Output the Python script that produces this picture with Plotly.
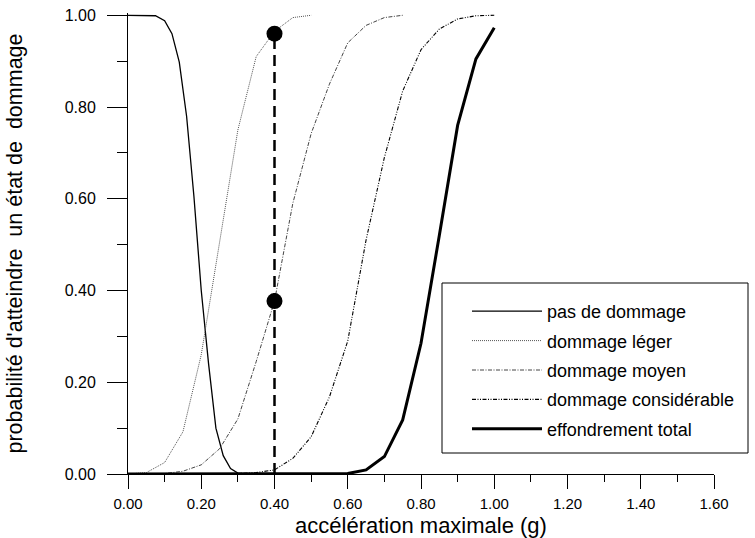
import plotly.graph_objects as go

# ---------------- data ----------------
x_pas = [0.0, 0.05, 0.075, 0.10, 0.12, 0.14, 0.16, 0.18, 0.20, 0.22, 0.24, 0.26, 0.28, 0.30, 0.32, 0.35]
p_pas = [1.0, 1.0, 0.999, 0.988, 0.96, 0.898, 0.78, 0.605, 0.40, 0.24, 0.10, 0.04, 0.012, 0.002, 0.0, 0.0]

x_leger = [0.0, 0.05, 0.10, 0.15, 0.20, 0.25, 0.30, 0.35, 0.40, 0.45, 0.50]
p_leger = [0.0, 0.003, 0.025, 0.092, 0.26, 0.50, 0.75, 0.91, 0.965, 0.995, 1.0]

x_moyen = [0.0, 0.05, 0.10, 0.15, 0.20, 0.25, 0.30, 0.35, 0.40, 0.45, 0.50, 0.55, 0.60, 0.65, 0.70, 0.75]
p_moyen = [0.0, 0.0, 0.001, 0.006, 0.02, 0.055, 0.12, 0.245, 0.377, 0.59, 0.742, 0.85, 0.94, 0.978, 0.995, 1.0]

x_consid = [0.0, 0.25, 0.30, 0.35, 0.40, 0.45, 0.50, 0.55, 0.60, 0.65, 0.70, 0.75, 0.80, 0.85, 0.90, 0.95, 1.00]
p_consid = [0.0, 0.0, 0.001, 0.003, 0.009, 0.034, 0.081, 0.168, 0.29, 0.51, 0.69, 0.835, 0.925, 0.97, 0.992, 0.999, 1.0]

x_effond = [0.0, 0.55, 0.60, 0.65, 0.70, 0.75, 0.80, 0.85, 0.90, 0.95, 1.00]
p_effond = [0.0, 0.0, 0.001, 0.009, 0.038, 0.118, 0.285, 0.52, 0.76, 0.905, 0.973]

# highlighted reading at a = 0.40 g
x_mark = [0.40, 0.40]
p_mark = [0.377, 0.96]

names = ["pas de dommage", "dommage léger", "dommage moyen",
         "dommage considérable", "effondrement total"]

x_ticks = [0.0, 0.2, 0.4, 0.6, 0.8, 1.0, 1.2, 1.4, 1.6]
y_ticks = [0.0, 0.2, 0.4, 0.6, 0.8, 1.0]

FONT = "Arial, 'Liberation Sans', Helvetica, sans-serif"

# ---------------- figure ----------------
fig = go.Figure()

styles = [
    dict(color="black", width=1.3, dash="solid"),
    dict(color="#555555", width=1.0, dash="1px,1px"),
    dict(color="#444444", width=1.0, dash="4px,1.5px,1px,1.5px"),
    dict(color="black", width=1.1, dash="4px,1.5px,1px,1.5px,1px,1.5px"),
    dict(color="black", width=3.0, dash="solid"),
]
series = [(x_pas, p_pas), (x_leger, p_leger), (x_moyen, p_moyen),
          (x_consid, p_consid), (x_effond, p_effond)]

for i, ((xs, ps), nm, st) in enumerate(zip(series, names, styles)):
    fig.add_trace(go.Scatter(
        x=xs, y=ps, mode="lines", name=nm, legendgroup=f"g{i}",
        line=st, hoverinfo="skip",
    ))

# dashed vertical reading line + markers
fig.add_trace(go.Scatter(
    x=[x_mark[0], x_mark[1]], y=[0.0, p_mark[1]], mode="lines",
    line=dict(color="black", width=2.5, dash="11px,6px"),
    showlegend=False, hoverinfo="skip",
))
fig.add_trace(go.Scatter(
    x=x_mark, y=p_mark, mode="markers",
    marker=dict(color="black", size=16, line=dict(width=0)),
    showlegend=False, hoverinfo="skip", cliponaxis=False,
))

# legend frame
L, T, W, H = 128, 13, 586, 461
def px_x(p):
    return (p - L) / W
def px_y(p):
    return (T + H - p) / H

fig.add_shape(type="rect", xref="paper", yref="paper",
              x0=px_x(442), x1=px_x(748), y0=px_y(453), y1=px_y(283),
              line=dict(color="black", width=1), fillcolor="rgba(0,0,0,0)",
              layer="below")

fig.update_layout(
    width=755, height=538,
    margin=dict(l=L, r=755 - L - W, t=T, b=538 - T - H, autoexpand=False),
    paper_bgcolor="white", plot_bgcolor="white",
    font=dict(family=FONT, color="black"),
    showlegend=True,
    legend=dict(
        x=px_x(467), y=px_y(293), xanchor="left", yanchor="top",
        bgcolor="rgba(0,0,0,0)", borderwidth=0,
        font=dict(size=18, family=FONT, color="black"),
        itemwidth=70, tracegroupgap=3, traceorder="grouped",
    ),
    xaxis=dict(
        range=[0, 1.6], tickvals=x_ticks, tickformat=".2f",
        ticks="outside", ticklen=14, tickwidth=1, tickcolor="black",
        showline=True, linecolor="black", linewidth=1,
        showgrid=False, zeroline=False,
        tickfont=dict(size=15, family=FONT),
        ticklabelstandoff=2,
        minor=dict(dtick=0.1, tick0=0, ticks="outside", ticklen=7,
                   tickwidth=1, tickcolor="black", showgrid=False),
        title=dict(text="accélération maximale (g)",
                   font=dict(size=22, family=FONT), standoff=20),
        automargin=False,
    ),
    yaxis=dict(
        range=[0, 1.005], tickvals=y_ticks, tickformat=".2f",
        ticks="outside", ticklen=20, tickwidth=1, tickcolor="black",
        showline=True, linecolor="black", linewidth=1,
        showgrid=False, zeroline=False,
        tickfont=dict(size=16, family=FONT),
        ticklabelstandoff=8,
        minor=dict(dtick=0.1, tick0=0, ticks="outside", ticklen=10,
                   tickwidth=1, tickcolor="black", showgrid=False),
        title=dict(text="probabilité d'atteindre  un état de  dommage",
                   font=dict(size=21.5, family=FONT), standoff=36),
        automargin=False,
    ),
)

fig.write_html("out.html")
